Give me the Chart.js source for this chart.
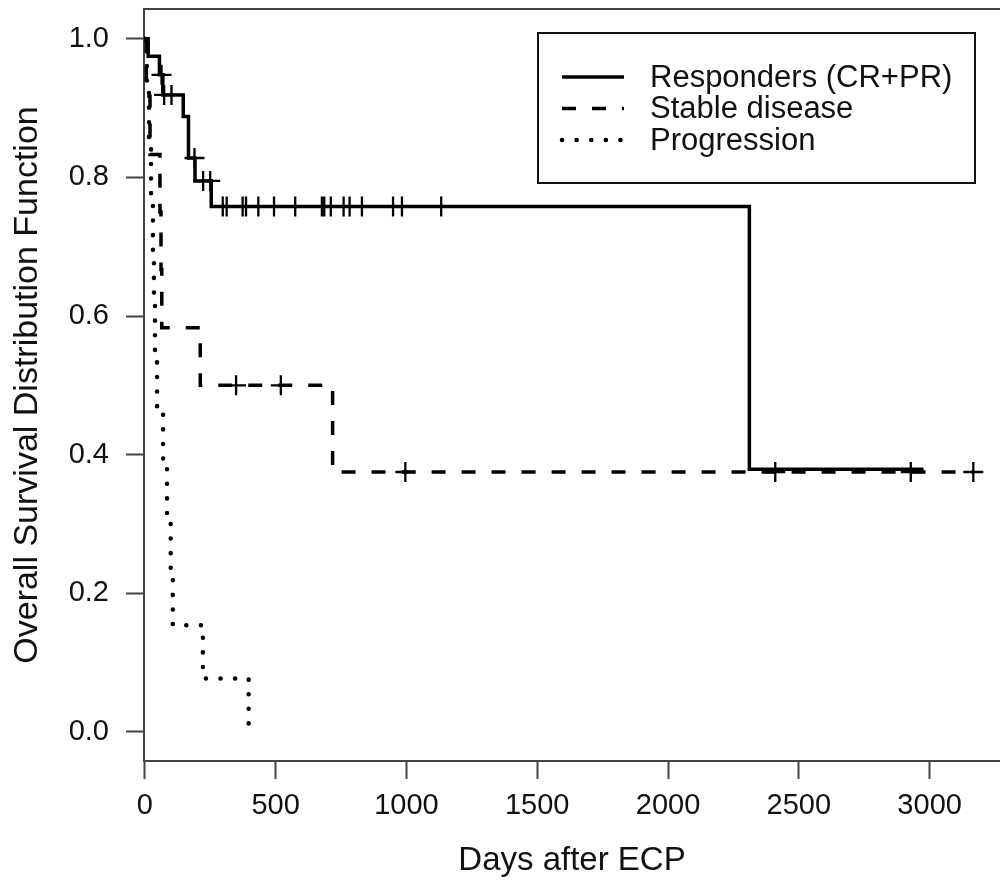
<!DOCTYPE html>
<html>
<head>
<meta charset="utf-8">
<script src="https://cdn.jsdelivr.net/npm/chart.js@4"></script>
<style>
  body { margin: 0; background: #fff; }
  #wrap { width: 1000px; height: 886px; }
</style>
</head>
<body>
<div id="wrap"><canvas id="km" width="1000" height="886"></canvas></div>
<script>
// Kaplan-Meier curves (days, survival after the step)
const respTime = [0, 13, 56, 69, 147, 167, 192, 254, 2311, 2977];
const respSurv = [1.0, 0.975, 0.948, 0.919, 0.888, 0.828, 0.795, 0.758, 0.379, 0.379];
const respCensor = [64, 74, 102, 190, 223, 250, 298, 313, 374, 387, 434, 494, 575, 677, 686, 711, 760, 783, 830, 949, 983, 1133];

const stableTime = [0, 6, 20, 58, 62, 65, 212, 718, 3167];
const stableSurv = [1.0, 0.917, 0.833, 0.75, 0.667, 0.583, 0.5, 0.375, 0.375];
const stableCensor = [349, 520, 996, 2410, 2928, 3167];

const progTime = [0, 8, 16, 24, 31, 35, 39, 47, 70, 85, 99, 107, 222, 397];
const progSurv = [1.0, 0.923, 0.846, 0.769, 0.692, 0.615, 0.538, 0.462, 0.385, 0.308, 0.231, 0.154, 0.077, 0.0];

const groupNames = ['Responders (CR+PR)', 'Stable disease', 'Progression'];
const xTicks = [0, 500, 1000, 1500, 2000, 2500, 3000];
const yTicks = [0.0, 0.2, 0.4, 0.6, 0.8, 1.0];

const pts = (t, s) => t.map((v, i) => ({x: v, y: s[i]}));
// survival level of a curve at time t (for the censor marks)
function levelAt(t, times, surv) {
  let s = surv[0];
  for (let i = 0; i < times.length; i++) if (times[i] <= t) s = surv[i];
  return s;
}
const marks = (c, t, s) => c.map(v => ({x: v, y: levelAt(v, t, s)}));

const lineBase = {showLine: true, stepped: true, pointRadius: 0, borderColor: '#000', fill: false};
const markBase = {showLine: false, pointStyle: 'cross', pointRadius: 10, pointBorderWidth: 2.3,
  borderColor: '#000', backgroundColor: '#000', isMark: true};
const FONT = '"Liberation Sans", Arial, sans-serif';

const frameAndLegend = {
  id: 'frameAndLegend',
  afterDatasetsDraw(chart) {
    const {ctx, chartArea: a} = chart;
    ctx.save();
    // top edge of the box (the right edge falls outside the picture)
    ctx.strokeStyle = '#444';
    ctx.lineWidth = 2;
    ctx.beginPath();
    ctx.moveTo(a.left, a.top);
    ctx.lineTo(chart.width, a.top);
    ctx.stroke();

    // legend box
    const bx = 538, by = 33, bw = 437, bh = 150;
    ctx.fillStyle = '#fff';
    ctx.fillRect(bx, by, bw, bh);
    ctx.strokeStyle = '#111';
    ctx.strokeRect(bx, by, bw, bh);
    const rows = [77, 108.5, 140];
    ctx.font = '31px ' + FONT;
    ctx.textBaseline = 'middle';
    chart.data.datasets.filter(d => !d.isMark).forEach((d, i) => {
      ctx.setLineDash(d.borderDash || []);
      ctx.lineCap = d.borderCapStyle || 'butt';
      ctx.lineWidth = d.borderWidth;
      ctx.strokeStyle = '#000';
      ctx.beginPath();
      ctx.moveTo(562, rows[i]);
      ctx.lineTo(624, rows[i]);
      ctx.stroke();
      ctx.setLineDash([]);
      ctx.fillStyle = '#111';
      ctx.fillText(d.label, 650, rows[i] + 1);
    });
    ctx.restore();
  }
};

new Chart(document.getElementById('km'), {
  type: 'scatter',
  data: {
    datasets: [
      {...lineBase, label: groupNames[0], data: pts(respTime, respSurv), borderWidth: 3.5},
      {...lineBase, label: groupNames[1], data: pts(stableTime, stableSurv), borderWidth: 3.5, borderDash: [14, 16]},
      {...lineBase, label: groupNames[2], data: pts(progTime, progSurv), borderWidth: 4.5, borderDash: [0.1, 14.5], borderCapStyle: 'round'},
      {...markBase, label: 'resp censored', data: marks(respCensor, respTime, respSurv)},
      {...markBase, label: 'stable censored', data: marks(stableCensor, stableTime, stableSurv)}
    ]
  },
  options: {
    responsive: false,
    animation: false,
    layout: {autoPadding: false, padding: {top: 9, right: 0, left: 0, bottom: 0}},
    plugins: {
      legend: {display: false},
      tooltip: {enabled: false}
    },
    scales: {
      x: {
        type: 'linear',
        min: -3,
        max: 3269,
        afterFit: s => { s.height = 125; s.paddingLeft = 0; s.paddingRight = 0; },
        afterBuildTicks: s => { s.ticks = xTicks.map(v => ({value: v})); },
        grid: {drawOnChartArea: false, tickLength: 18, tickWidth: 2, tickColor: '#444'},
        border: {display: true, color: '#444', width: 2},
        ticks: {color: '#111', padding: 10, maxRotation: 0, callback: v => String(v),
          font: {size: 29, family: FONT}},
        title: {display: true, text: 'Days after ECP', color: '#111', padding: {top: 0, bottom: 5},
          font: {size: 33, family: FONT}}
      },
      y: {
        min: -0.042,
        max: 1.043,
        afterFit: s => { s.width = 144; s.paddingTop = 0; s.paddingBottom = 0; },
        afterBuildTicks: s => { s.ticks = yTicks.map(v => ({value: v})); },
        grid: {drawOnChartArea: false, tickLength: 18, tickWidth: 2, tickColor: '#444'},
        border: {display: true, color: '#444', width: 2},
        ticks: {color: '#111', padding: 17, callback: v => v.toFixed(1),
          font: {size: 29, family: FONT}},
        title: {display: true, text: 'Overall Survival Distribution Function', color: '#111', padding: {top: 7, bottom: 0},
          font: {size: 34, family: FONT}}
      }
    }
  },
  plugins: [frameAndLegend]
});
</script>
</body>
</html>
